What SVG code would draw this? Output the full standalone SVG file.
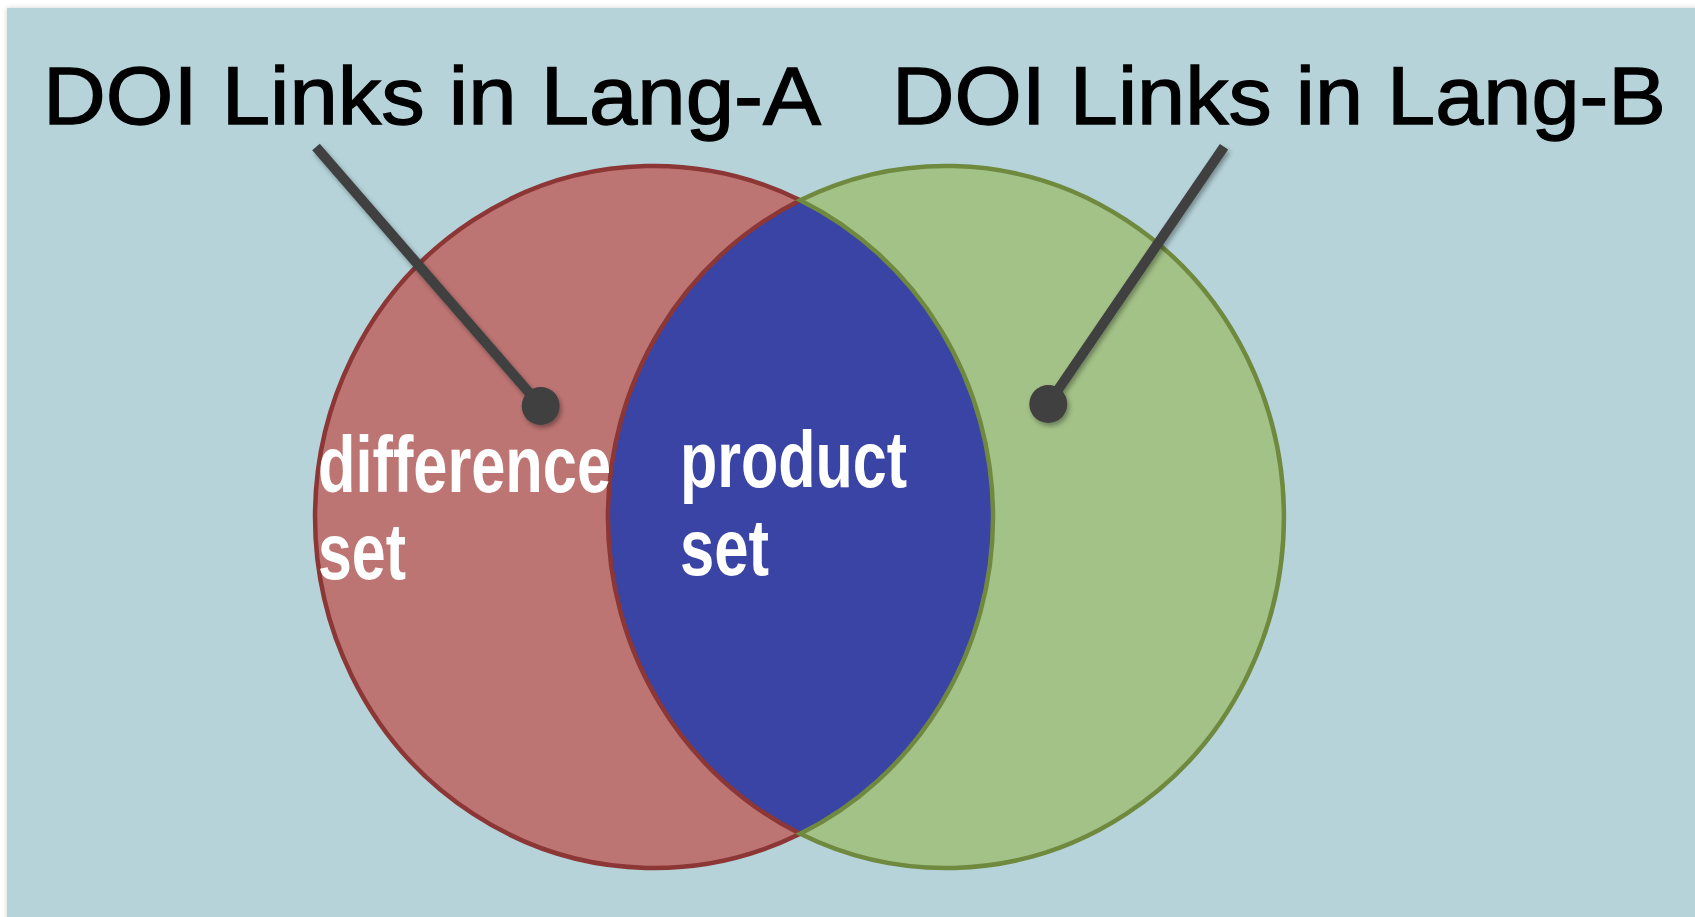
<svg xmlns="http://www.w3.org/2000/svg" width="1695" height="917" viewBox="0 0 1695 917">
  <style>
    .title { font-family: "Liberation Sans", Arial, sans-serif; font-size: 82px; fill: #000000; stroke: #000000; stroke-width: 1.3px; }
    .label { font-family: "Liberation Sans", Arial, sans-serif; font-weight: bold; font-size: 80px; fill: #ffffff; }
    .pointer-line { stroke: #404040; stroke-width: 10; stroke-linecap: butt; fill: none; }
    .pointer-dot { fill: #404040; }
  </style>
  <defs>
    <filter id="shadow" x="-20%" y="-20%" width="140%" height="140%">
      <feDropShadow dx="2" dy="3" stdDeviation="2.5" flood-color="#000000" flood-opacity="0.35"/>
    </filter>
    <filter id="panel-shadow" x="-2%" y="-2%" width="104%" height="104%">
      <feDropShadow dx="0" dy="0" stdDeviation="2.5" flood-color="#000000" flood-opacity="0.18"/>
    </filter>
  </defs>

  <!-- page and panel -->
  <rect x="0" y="0" width="1695" height="917" fill="#ffffff"/>
  <rect x="7" y="8" width="1700" height="920" fill="#b5d3d9" filter="url(#panel-shadow)"/>

  <!-- intersection (lens) -->
  <g id="product-set">
    <path d="M 800.2 200.3 A 339 351 0 0 1 800.2 833.7 A 338 351 0 0 1 800.2 200.3 Z" fill="#3a44a5"/>
  </g>

  <!-- left crescent: Lang-A only -->
  <g id="set-a">
    <path d="M 800.2 200.3 A 339 351 0 1 0 800.2 833.7 A 338 351 0 0 1 800.2 200.3 Z"
          fill="#bd7573" stroke="#8c3636" stroke-width="4.5" stroke-linejoin="miter"/>
  </g>

  <!-- right crescent: Lang-B only -->
  <g id="set-b">
    <path d="M 800.2 200.3 A 338 351 0 1 1 800.2 833.7 A 339 351 0 0 0 800.2 200.3 Z"
          fill="#a3c287" stroke="#6f8a3e" stroke-width="4.5" stroke-linejoin="miter"/>
  </g>

  <!-- region labels -->
  <g id="label-difference">
    <text class="label" x="318" y="492" textLength="293" lengthAdjust="spacingAndGlyphs">difference</text>
    <text class="label" x="318" y="579" textLength="88" lengthAdjust="spacingAndGlyphs">set</text>
  </g>
  <g id="label-product">
    <text class="label" x="680" y="487" textLength="227" lengthAdjust="spacingAndGlyphs">product</text>
    <text class="label" x="680" y="575" textLength="89" lengthAdjust="spacingAndGlyphs">set</text>
  </g>

  <!-- titles -->
  <g id="title-a">
    <text class="title" x="43" y="124" textLength="778" lengthAdjust="spacingAndGlyphs">DOI Links in Lang-A</text>
  </g>
  <g id="title-b">
    <text class="title" x="892" y="124" textLength="774" lengthAdjust="spacingAndGlyphs">DOI Links in Lang-B</text>
  </g>

  <!-- pointers from titles into the sets -->
  <g id="connectors" filter="url(#shadow)">
    <line class="pointer-line" x1="316" y1="147" x2="540.7" y2="406"/>
    <circle class="pointer-dot" cx="540.7" cy="406" r="19"/>
    <line class="pointer-line" x1="1224" y1="146.7" x2="1048.3" y2="404"/>
    <circle class="pointer-dot" cx="1048.3" cy="404" r="19"/>
  </g>
</svg>
